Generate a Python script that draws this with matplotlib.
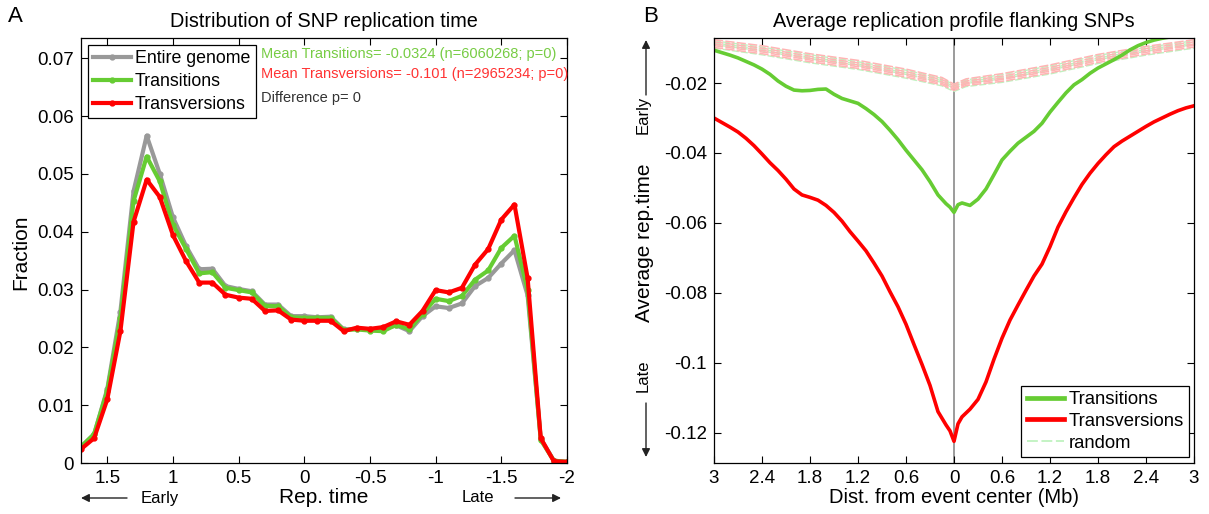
import matplotlib
matplotlib.use('Agg')
import matplotlib.pyplot as plt
from matplotlib.lines import Line2D

plt.rcParams['font.family'] = ['Liberation Sans', 'DejaVu Sans']

# ---------------- Panel A data ----------------
rep_time = [1.7, 1.6, 1.5, 1.4, 1.3, 1.2, 1.1, 1.0, 0.9, 0.8, 0.7, 0.6, 0.5, 0.4, 0.3, 0.2, 0.1, 0.0,
            -0.1, -0.2, -0.3, -0.4, -0.5, -0.6, -0.7, -0.8, -0.9, -1.0, -1.1, -1.2, -1.3, -1.4, -1.5,
            -1.6, -1.7, -1.8, -1.9, -2.0]
frac_genome = [0.0028, 0.0050, 0.0128, 0.0262, 0.0470, 0.0566, 0.0500, 0.0425, 0.0375, 0.0335, 0.0336,
               0.0306, 0.0301, 0.0297, 0.0274, 0.0274, 0.0254, 0.0254, 0.0252, 0.0253, 0.0231, 0.0232,
               0.0231, 0.0232, 0.0238, 0.0228, 0.0254, 0.0271, 0.0268, 0.0276, 0.0306, 0.0320, 0.0345,
               0.0368, 0.0290, 0.0042, 0.0004, 0.0002]
frac_transitions = [0.0028, 0.0050, 0.0125, 0.0250, 0.0453, 0.0530, 0.0487, 0.0412, 0.0370, 0.0328, 0.0330,
                    0.0303, 0.0299, 0.0295, 0.0272, 0.0271, 0.0252, 0.0251, 0.0251, 0.0251, 0.0230, 0.0231,
                    0.0229, 0.0228, 0.0239, 0.0231, 0.0258, 0.0284, 0.0280, 0.0289, 0.0317, 0.0333, 0.0372,
                    0.0393, 0.0300, 0.0040, 0.0004, 0.0002]
frac_transversions = [0.0024, 0.0043, 0.0110, 0.0228, 0.0417, 0.0490, 0.0460, 0.0394, 0.0349, 0.0312, 0.0312,
                      0.0291, 0.0286, 0.0284, 0.0263, 0.0264, 0.0248, 0.0246, 0.0246, 0.0246, 0.0228, 0.0234,
                      0.0232, 0.0235, 0.0245, 0.0239, 0.0263, 0.0299, 0.0295, 0.0303, 0.0343, 0.0370, 0.0421,
                      0.0447, 0.0320, 0.0043, 0.0003, 0.0002]
a_xticks = [1.5, 1.0, 0.5, 0.0, -0.5, -1.0, -1.5, -2.0]
a_xticklabels = ['1.5', '1', '0.5', '0', '-0.5', '-1', '-1.5', '-2']
a_yticks = [0, 0.01, 0.02, 0.03, 0.04, 0.05, 0.06, 0.07]
a_yticklabels = ['0', '0.01', '0.02', '0.03', '0.04', '0.05', '0.06', '0.07']

# ---------------- Panel B data ----------------
dist = [-3.0, -2.9, -2.8, -2.7, -2.6, -2.5, -2.4, -2.3, -2.2, -2.1, -2.0, -1.9, -1.8, -1.7, -1.6, -1.5,
        -1.4, -1.3, -1.2, -1.1, -1.0, -0.9, -0.8, -0.7, -0.6, -0.5, -0.4, -0.3, -0.2, -0.1, -0.05, 0.0,
        0.05, 0.1, 0.2, 0.3, 0.4, 0.5, 0.6, 0.7, 0.8, 0.9, 1.0, 1.1, 1.2, 1.3, 1.4, 1.5, 1.6, 1.7, 1.8,
        1.9, 2.0, 2.1, 2.2, 2.3, 2.4, 2.5, 2.6, 2.7, 2.8, 2.9, 3.0]
prof_transitions = [-0.0106, -0.0113, -0.0120, -0.0128, -0.0138, -0.0148, -0.0160, -0.0175, -0.0194, -0.0209,
                    -0.0220, -0.0222, -0.0221, -0.0218, -0.0217, -0.0232, -0.0244, -0.0251, -0.0258, -0.0273,
                    -0.0290, -0.0310, -0.0335, -0.0362, -0.0392, -0.0420, -0.0448, -0.0482, -0.0520, -0.0545,
                    -0.0555, -0.0570, -0.0548, -0.0543, -0.0550, -0.0532, -0.0503, -0.0462, -0.0420, -0.0395,
                    -0.0372, -0.0355, -0.0338, -0.0315, -0.0283, -0.0255, -0.0228, -0.0205, -0.0190, -0.0172,
                    -0.0157, -0.0145, -0.0133, -0.0120, -0.0105, -0.0093, -0.0084, -0.0077, -0.0072, -0.0068,
                    -0.0065, -0.0063, -0.0062]
prof_transversions = [-0.0300, -0.0313, -0.0326, -0.0340, -0.0358, -0.0379, -0.0403, -0.0428, -0.0450, -0.0475,
                      -0.0503, -0.0520, -0.0527, -0.0535, -0.0550, -0.0570, -0.0595, -0.0625, -0.0652, -0.0680,
                      -0.0715, -0.0752, -0.0797, -0.0840, -0.0890, -0.0948, -0.1005, -0.1065, -0.1140, -0.1178,
                      -0.1195, -0.1225, -0.1175, -0.1155, -0.1133, -0.1105, -0.1055, -0.0990, -0.0930, -0.0878,
                      -0.0835, -0.0793, -0.0752, -0.0718, -0.0668, -0.0612, -0.0568, -0.0528, -0.0490, -0.0458,
                      -0.0430, -0.0405, -0.0382, -0.0366, -0.0352, -0.0338, -0.0324, -0.0311, -0.0300, -0.0289,
                      -0.0279, -0.0271, -0.0265]
rand_dist = [-3.0, -2.4, -1.8, -1.2, -0.6, -0.15, 0.0, 0.15, 0.6, 1.2, 1.8, 2.4, 3.0]
rand_pink = [
    [-0.0076, -0.0093, -0.0116, -0.0135, -0.0160, -0.0184, -0.0203, -0.0188, -0.0173, -0.0148, -0.0118, -0.0095, -0.0076],
    [-0.0082, -0.0100, -0.0123, -0.0142, -0.0167, -0.0190, -0.0208, -0.0194, -0.0180, -0.0155, -0.0125, -0.0101, -0.0082],
    [-0.0088, -0.0106, -0.0129, -0.0148, -0.0173, -0.0196, -0.0213, -0.0199, -0.0186, -0.0161, -0.0131, -0.0107, -0.0088],
    [-0.0093, -0.0111, -0.0134, -0.0153, -0.0178, -0.0201, -0.0217, -0.0203, -0.0190, -0.0166, -0.0136, -0.0112, -0.0092],
    [-0.0098, -0.0116, -0.0139, -0.0158, -0.0183, -0.0205, -0.0221, -0.0207, -0.0195, -0.0171, -0.0141, -0.0117, -0.0097],
]
rand_green = [
    [-0.0079, -0.0097, -0.0119, -0.0139, -0.0163, -0.0187, -0.0205, -0.0191, -0.0176, -0.0151, -0.0121, -0.0098, -0.0079],
    [-0.0090, -0.0108, -0.0131, -0.0150, -0.0175, -0.0198, -0.0215, -0.0201, -0.0188, -0.0163, -0.0133, -0.0109, -0.0090],
    [-0.0100, -0.0119, -0.0142, -0.0161, -0.0186, -0.0208, -0.0224, -0.0210, -0.0198, -0.0174, -0.0144, -0.0120, -0.0100],
    [-0.0085, -0.0103, -0.0126, -0.0145, -0.0170, -0.0193, -0.0210, -0.0196, -0.0183, -0.0158, -0.0128, -0.0104, -0.0085],
]
b_xticks = [-3.0, -2.4, -1.8, -1.2, -0.6, 0.0, 0.6, 1.2, 1.8, 2.4, 3.0]
b_xticklabels = ['3', '2.4', '1.8', '1.2', '0.6', '0', '0.6', '1.2', '1.8', '2.4', '3']
b_yticks = [-0.12, -0.1, -0.08, -0.06, -0.04, -0.02]
b_yticklabels = ['-0.12', '-0.1', '-0.08', '-0.06', '-0.04', '-0.02']

GRAY = '#999999'
GREEN = '#66cc33'
RED = '#ff0000'
PINK = '#ffb4b4'
LGREEN = '#bff2bf'

W, H = 1209, 514
fig = plt.figure(figsize=(W / 100, H / 100), dpi=100)
fig.patch.set_facecolor('white')


def style_axes(ax):
    for s in ax.spines.values():
        s.set_linewidth(0.9)
        s.set_color('black')
    ax.tick_params(direction='in', length=5, width=0.8, top=True, right=True,
                   labelsize=13.5, pad=5, colors='black')


# ---------------- Panel A ----------------
axA = fig.add_axes([81 / W, 1 - 463 / H, 486 / W, 425 / H])
style_axes(axA)
lw = 3.0
axA.plot(rep_time, frac_genome, color=GRAY, lw=lw, marker='.', ms=7, label='Entire genome')
axA.plot(rep_time, frac_transitions, color=GREEN, lw=lw, marker='.', ms=7, label='Transitions')
axA.plot(rep_time, frac_transversions, color=RED, lw=lw, marker='.', ms=7, label='Transversions')
axA.set_xlim(1.7, -2.0)
axA.set_ylim(0, 0.0735)
axA.set_xticks(a_xticks)
axA.set_xticklabels(a_xticklabels)
axA.set_yticks(a_yticks)
axA.set_yticklabels(a_yticklabels)
axA.set_ylabel('Fraction', fontsize=15)
axA.yaxis.set_label_coords(-0.104, 0.495)
axA.set_xlabel('Rep. time', fontsize=15, labelpad=1)
axA.set_title('Distribution of SNP replication time', fontsize=14.3, pad=8)
legA = axA.legend(loc='upper left', bbox_to_anchor=(0.0144, 0.984), borderaxespad=0,
                  fontsize=12.8, handlelength=2.1, handletextpad=0.25, labelspacing=0.33,
                  borderpad=0.3, fancybox=False, framealpha=1, edgecolor='black')
legA.get_frame().set_linewidth(0.9)
axA.text(0.37, 0.963, 'Mean Transitions= -0.0324 (n=6060268; p=0)', transform=axA.transAxes,
         color='#77cc44', fontsize=10.5, va='center', ha='left')
axA.text(0.37, 0.916, 'Mean Transversions= -0.101 (n=2965234; p=0)', transform=axA.transAxes,
         color='#ff3333', fontsize=10.5, va='center', ha='left', clip_on=False)
axA.text(0.37, 0.859, 'Difference p= 0', transform=axA.transAxes,
         color='#333333', fontsize=10.5, va='center', ha='left')

# ---------------- Panel B ----------------
axB = fig.add_axes([714 / W, 1 - 463 / H, 480 / W, 425 / H])
style_axes(axB)
for ys in rand_green:
    axB.plot(rand_dist, ys, color=LGREEN, lw=1.0, ls=(0, (5, 1.5)))
for ys in rand_pink:
    axB.plot(rand_dist, ys, color=PINK, lw=1.1, ls=(0, (6, 1.5)))
axB.axvline(0, color='#808080', lw=1.1, zorder=1.5)
axB.plot(dist, prof_transitions, color=GREEN, lw=2.6)
axB.plot(dist, prof_transversions, color=RED, lw=2.6)
axB.set_xlim(-3, 3)
axB.set_ylim(-0.1287, -0.0071)
axB.set_xticks(b_xticks)
axB.set_xticklabels(b_xticklabels)
axB.set_yticks(b_yticks)
axB.set_yticklabels(b_yticklabels)
axB.set_xlabel('Dist. from event center (Mb)', fontsize=14.5, labelpad=1)
axB.set_ylabel('Average rep.time', fontsize=15)
axB.yaxis.set_label_coords(-0.124, 0.518)
axB.set_title('Average replication profile flanking SNPs', fontsize=14.3, pad=8)
handles = [Line2D([], [], color=GREEN, lw=3.4),
           Line2D([], [], color=RED, lw=3.4),
           Line2D([], [], color=LGREEN, lw=1.3, ls=(0, (6, 2)))]
legB = axB.legend(handles, ['Transitions', 'Transversions', 'random'], loc='lower right',
                  bbox_to_anchor=(0.99, 0.014), borderaxespad=0, fontsize=13.3,
                  handlelength=2.0, handletextpad=0.25, labelspacing=0.25, borderpad=0.3,
                  fancybox=False, framealpha=1, edgecolor='black')
legB.get_frame().set_linewidth(0.9)

# ---------------- Panel letters & arrows ----------------
fig.text(15 / W, 1 - 17 / H, 'A', fontsize=16, ha='center', va='center')
fig.text(651 / W, 1 - 17 / H, 'B', fontsize=16, ha='center', va='center')

arrow_kw = dict(arrowstyle='-|>', color='#222222', lw=1.0, mutation_scale=12, shrinkA=0, shrinkB=0)
fig.text(160 / W, 1 - 498 / H, 'Early', fontsize=12, ha='center', va='center')
axA.annotate('', xy=(81, H - 498), xytext=(127, H - 498), xycoords='figure pixels',
             textcoords='figure pixels', arrowprops=arrow_kw, annotation_clip=False)
fig.text(478 / W, 1 - 498 / H, 'Late', fontsize=12, ha='center', va='center')
axA.annotate('', xy=(561, H - 498), xytext=(515, H - 498), xycoords='figure pixels',
             textcoords='figure pixels', arrowprops=arrow_kw, annotation_clip=False)

fig.text(643 / W, 1 - 115 / H, 'Early', fontsize=12, ha='center', va='center', rotation=90)
axB.annotate('', xy=(646, H - 40), xytext=(646, H - 95), xycoords='figure pixels',
             textcoords='figure pixels', arrowprops=arrow_kw, annotation_clip=False)
fig.text(643 / W, 1 - 376 / H, 'Late', fontsize=12, ha='center', va='center', rotation=90)
axB.annotate('', xy=(646, H - 457), xytext=(646, H - 403), xycoords='figure pixels',
             textcoords='figure pixels', arrowprops=arrow_kw, annotation_clip=False)

fig.savefig('out.png', dpi=100)
